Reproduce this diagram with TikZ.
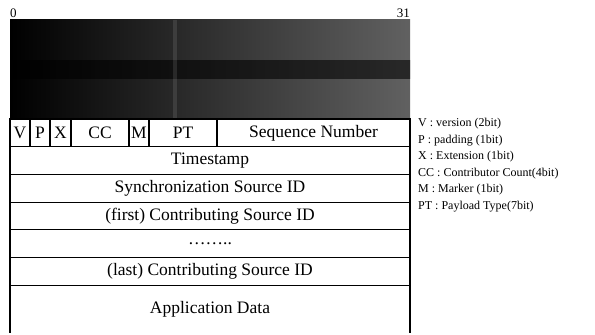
\documentclass[tikz,border=0pt]{standalone}
\usepackage{fontspec}
\setmainfont{Liberation Serif}
\usetikzlibrary{positioning}

\begin{document}
\begin{tikzpicture}[x=1pt,y=-1pt,node distance=0pt,
	field/.style={draw,rectangle,line width=1.2pt,inner sep=0pt,outer sep=0pt,
		minimum height=27.7pt,font=\fontsize{17.5}{20}\selectfont},
	row/.style={field,minimum width=400pt},
	border/.style={line width=1.2pt},
	bitno/.style={inner sep=0pt,font=\fontsize{13}{15}\selectfont},
	legend/.style={inner sep=0pt,align=left,font=\fontsize{12}{16.5}\selectfont}]
	
	\useasboundingbox (0,0) rectangle (595,335);
	
	% scanned header
	\node[inner sep=0pt,outer sep=0pt,minimum width=400pt,minimum height=100pt,
		anchor=north west,left color=black,middle color=black,right color=black!62] (hdr) at (10,19) {};
	\shade[left color=black,middle color=black,right color=black!88,opacity=0.85] (10,60) rectangle (410,78);
	\fill[white,opacity=0.1] (173,20) rectangle (177,118);
	\node[bitno,anchor=south west,yshift=1pt] (b0) at (hdr.north west) {0};
	\node[bitno,anchor=south east,yshift=1pt] (b31) at (hdr.north east) {31};
	
	% first word
	\node[field,minimum width=20pt,anchor=north west] (v) at (hdr.south west) {V};
	\node[field,minimum width=20pt,right=of v] (p) {P};
	\node[field,minimum width=21pt,right=of p] (x) {X};
	\node[field,minimum width=58pt,right=of x] (cc) {CC};
	\node[field,minimum width=20pt,right=of cc] (m) {M};
	\node[field,minimum width=68pt,right=of m] (pt) {PT};
	\node[field,minimum width=193pt,right=of pt] (seq) {Sequence Number};
	
	% remaining rows
	\node[row,anchor=north west] (ts) at (v.south west) {Timestamp};
	\node[row,below=of ts] (ssrc) {Synchronization Source ID};
	\node[row,below=of ssrc] (first) {(first) Contributing Source ID};
	\node[row,below=of first] (dots) {……..};
	\node[row,below=of dots] (last) {(last) Contributing Source ID};
	\node[row,draw=none,minimum height=48pt,below=of last] (app) {Application Data};
	\draw[border] (app.north west) -- (app.south west)
		(app.north east) -- (app.south east);
	
	% key
	\node[legend,anchor=north west] (key) at (418,118) {V : version (2bit)\\
		P : padding (1bit)\\
		X : Extension (1bit)\\
		CC : Contributor Count(4bit)\\
		M : Marker (1bit)\\
		PT : Payload Type(7bit)};
\end{tikzpicture}
\end{document}
